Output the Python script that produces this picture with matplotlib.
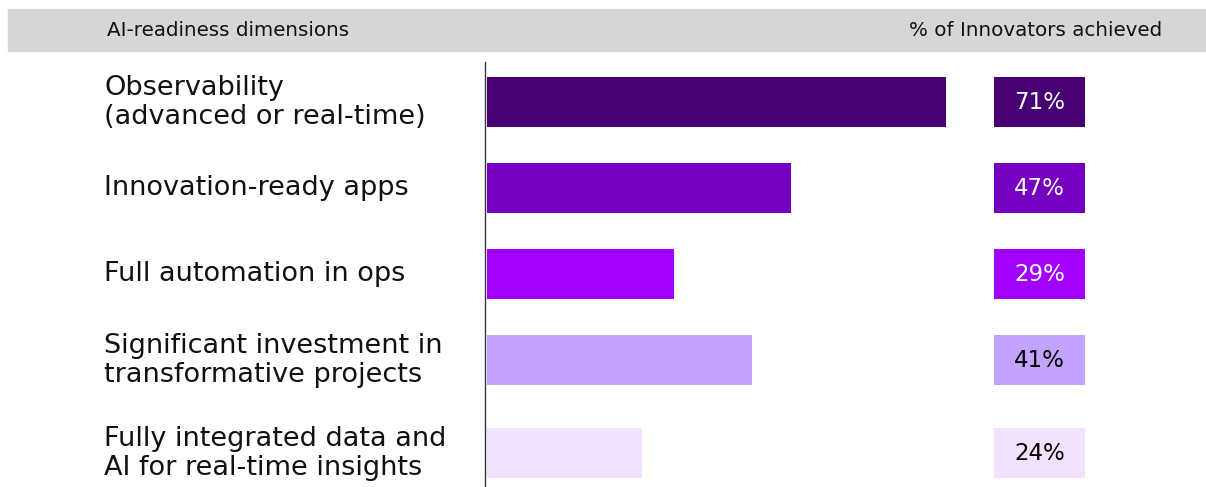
import matplotlib.pyplot as plt
from matplotlib.patches import Rectangle

# AI-readiness dimensions and share of innovators that achieved each one
dimensions = [
    "Observability\n(advanced or real-time)",
    "Innovation-ready apps",
    "Full automation in ops",
    "Significant investment in\ntransformative projects",
    "Fully integrated data and\nAI for real-time insights",
]
pct_achieved = [71, 47, 29, 41, 24]
bar_colors = ["#460073", "#7500C0", "#A100FF", "#C2A3FF", "#F1E3FF"]
value_text_colors = ["white", "white", "white", "black", "black"]

# row positions (last row sits a little lower)
row_pos = [0, 1, 2, 3, 4.08]

W, H = 1206, 487
plt.rcParams["font.family"] = ["DejaVu Sans"]
fig = plt.figure(figsize=(W / 100, H / 100), dpi=100)

# header band
fig.patches.append(Rectangle((8 / W, 1 - 51 / H), 1 - 8 / W, 42 / H,
                             transform=fig.transFigure, color="#D6D6D8", zorder=0))
for x, txt, ha in [(107, "AI-readiness dimensions", "left"),
                   (1162, "% of Innovators achieved", "right")]:
    fig.text(x / W, 1 - 30 / H, txt, fontsize=14.3,
             va="center", ha=ha, color="#111111")

px_per_pct = 6.465
ax = fig.add_axes([485 / W, 0, 1 - 485 / W, 1 - 62 / H])
ax.set_xlim(0, (W - 485) / px_per_pct)
ax.set_ylim(4.475, -0.465)

ax.barh(row_pos, pct_achieved, height=0.58, color=bar_colors, left=0.3)

# value boxes on the right
box_left = (994 - 485) / px_per_pct
box_w = 91 / px_per_pct
ax.barh(row_pos, [box_w] * len(row_pos), left=box_left, height=0.58, color=bar_colors)
for y, v, tc in zip(row_pos, pct_achieved, value_text_colors):
    ax.text(box_left + box_w / 2, y, f"{v}%", ha="center", va="center",
            fontsize=16.5, color=tc)

# category labels on the left
for y, lab in zip(row_pos, dimensions):
    ax.text(-(485 - 104) / px_per_pct, y, lab, ha="left", va="center",
            fontsize=19.5, color="#111111", linespacing=1.15, clip_on=False)

for s in ["top", "right", "bottom"]:
    ax.spines[s].set_visible(False)
ax.spines["left"].set_color("#333333")
ax.spines["left"].set_linewidth(1)
ax.set_xticks([])
ax.set_yticks([])

fig.savefig("out.png", dpi=100)
